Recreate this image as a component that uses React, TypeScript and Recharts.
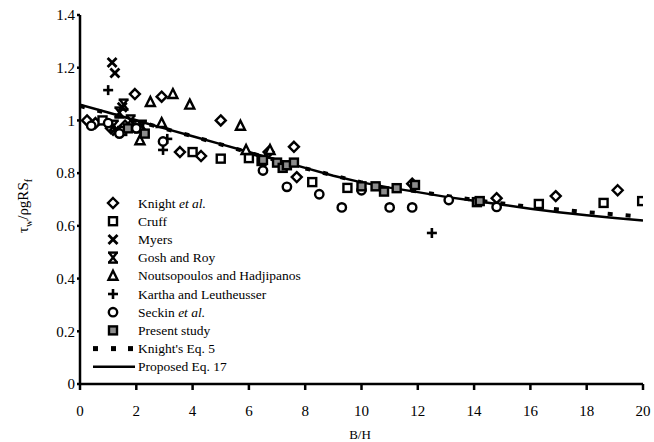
import React from 'react';
import {
    ComposedChart,
    Scatter,
    Line,
    XAxis,
    YAxis,
    Customized
} from 'recharts';

type Pt = { x: number; y: number };

// readings taken off the published figure
const knight: Pt[] = [
    { x: 0.25, y: 1.0 }, { x: 0.55, y: 0.99 }, { x: 1.1, y: 0.97 }, { x: 1.6, y: 0.98 },
    { x: 1.95, y: 1.1 }, { x: 2.9, y: 1.09 }, { x: 3.55, y: 0.88 }, { x: 4.3, y: 0.865 },
    { x: 5.0, y: 1.0 }, { x: 6.7, y: 0.88 }, { x: 7.6, y: 0.9 }, { x: 7.7, y: 0.785 },
    { x: 11.8, y: 0.76 }, { x: 14.8, y: 0.705 }, { x: 16.9, y: 0.713 }, { x: 19.1, y: 0.735 }
];
const cruff: Pt[] = [
    { x: 0.8, y: 1.0 }, { x: 1.5, y: 0.96 }, { x: 2.1, y: 0.97 }, { x: 4.0, y: 0.88 },
    { x: 5.0, y: 0.855 }, { x: 6.0, y: 0.857 }, { x: 6.45, y: 0.846 }, { x: 8.25, y: 0.766 },
    { x: 9.5, y: 0.744 }, { x: 16.3, y: 0.683 }, { x: 18.6, y: 0.687 }, { x: 19.97, y: 0.694 }
];
const myers: Pt[] = [
    { x: 1.14, y: 1.22 }, { x: 1.24, y: 1.18 }, { x: 1.5, y: 1.05 }, { x: 1.3, y: 0.96 }
];
const gosh: Pt[] = [
    { x: 1.55, y: 1.06 }, { x: 1.4, y: 1.03 }, { x: 1.8, y: 1.0 }, { x: 2.2, y: 0.98 }, { x: 1.2, y: 0.98 }
];
const noutsopoulos: Pt[] = [
    { x: 2.5, y: 1.07 }, { x: 3.3, y: 1.1 }, { x: 3.9, y: 1.06 }, { x: 5.7, y: 0.98 },
    { x: 2.9, y: 0.99 }, { x: 2.13, y: 0.925 }, { x: 5.9, y: 0.888 }, { x: 6.75, y: 0.888 }
];
const kartha: Pt[] = [
    { x: 1.0, y: 1.115 }, { x: 1.9, y: 0.98 }, { x: 2.95, y: 0.888 }, { x: 3.1, y: 0.93 }, { x: 12.5, y: 0.573 }
];
const seckin: Pt[] = [
    { x: 0.4, y: 0.98 }, { x: 1.0, y: 0.99 }, { x: 1.4, y: 0.95 }, { x: 2.0, y: 0.97 },
    { x: 2.95, y: 0.92 }, { x: 6.5, y: 0.81 }, { x: 7.35, y: 0.748 }, { x: 8.5, y: 0.72 },
    { x: 9.3, y: 0.67 }, { x: 10.0, y: 0.735 }, { x: 11.0, y: 0.67 }, { x: 11.8, y: 0.67 },
    { x: 13.1, y: 0.698 }, { x: 14.8, y: 0.672 }
];
const present: Pt[] = [
    { x: 1.7, y: 0.97 }, { x: 2.3, y: 0.95 }, { x: 6.5, y: 0.85 }, { x: 7.0, y: 0.84 },
    { x: 7.2, y: 0.82 }, { x: 7.35, y: 0.83 }, { x: 7.6, y: 0.84 }, { x: 10.0, y: 0.75 },
    { x: 10.5, y: 0.75 }, { x: 10.8, y: 0.73 }, { x: 11.25, y: 0.743 }, { x: 11.9, y: 0.755 },
    { x: 14.1, y: 0.69 }, { x: 14.2, y: 0.694 }
];
const knightEq5: Pt[] = [
    { x: 0, y: 1.055 }, { x: 2, y: 0.998 }, { x: 4, y: 0.94 }, { x: 6, y: 0.878 },
    { x: 8, y: 0.818 }, { x: 10, y: 0.765 }, { x: 12, y: 0.73 }, { x: 14, y: 0.698 },
    { x: 16, y: 0.672 }, { x: 18, y: 0.652 }, { x: 20, y: 0.635 }
];
const proposedEq17: Pt[] = [
    { x: 0, y: 1.06 }, { x: 1, y: 1.03 }, { x: 2, y: 1.0 }, { x: 3, y: 0.97 }, { x: 4, y: 0.94 },
    { x: 5, y: 0.91 }, { x: 6, y: 0.88 }, { x: 7, y: 0.85 }, { x: 8, y: 0.82 }, { x: 9, y: 0.79 },
    { x: 10, y: 0.765 }, { x: 11, y: 0.745 }, { x: 12, y: 0.728 }, { x: 13, y: 0.71 }, { x: 14, y: 0.695 },
    { x: 15, y: 0.68 }, { x: 16, y: 0.665 }, { x: 17, y: 0.652 }, { x: 18, y: 0.64 }, { x: 19, y: 0.63 },
    { x: 20, y: 0.62 }
];
const xTicks = [0, 2, 4, 6, 8, 10, 12, 14, 16, 18, 20];
const yTicks = [0, 0.2, 0.4, 0.6, 0.8, 1, 1.2, 1.4];

const FONT = "'Liberation Serif', 'Times New Roman', serif";

type Kind = 'diamond' | 'square' | 'x' | 'gosh' | 'triangle' | 'plus' | 'circle' | 'graySquare';

const Marker = ({ kind, cx, cy }: { kind: Kind; cx: number; cy: number }) => {
    const s = { stroke: '#000', strokeWidth: 2.4, fill: '#fff' };
    switch (kind) {
        case 'diamond':
            return <polygon points={`${cx},${cy - 5} ${cx + 5},${cy} ${cx},${cy + 5} ${cx - 5},${cy}`} {...s} />;
        case 'square':
            return <rect x={cx - 4} y={cy - 4} width={8} height={8} {...s} />;
        case 'graySquare':
            return <rect x={cx - 4} y={cy - 4} width={8} height={8} {...s} fill="#8c8c8c" />;
        case 'triangle':
            return <polygon points={`${cx},${cy - 5} ${cx + 4.5},${cy + 4} ${cx - 4.5},${cy + 4}`} {...s} />;
        case 'circle':
            return <circle cx={cx} cy={cy} r={4.2} {...s} />;
        case 'plus':
            return (
                <g stroke="#000" strokeWidth={2.6}>
                    <line x1={cx - 5} y1={cy} x2={cx + 5} y2={cy} />
                    <line x1={cx} y1={cy - 5} x2={cx} y2={cy + 5} />
                </g>
            );
        case 'x':
            return (
                <g stroke="#000" strokeWidth={2.8}>
                    <line x1={cx - 4.5} y1={cy - 4.5} x2={cx + 4.5} y2={cy + 4.5} />
                    <line x1={cx + 4.5} y1={cy - 4.5} x2={cx - 4.5} y2={cy + 4.5} />
                </g>
            );
        case 'gosh':
            return (
                <g stroke="#000" strokeWidth={2.4}>
                    <line x1={cx - 4} y1={cy - 5} x2={cx + 4} y2={cy + 5} />
                    <line x1={cx + 4} y1={cy - 5} x2={cx - 4} y2={cy + 5} />
                    <line x1={cx - 5} y1={cy - 5} x2={cx + 5} y2={cy - 5} />
                    <line x1={cx - 5} y1={cy + 5} x2={cx + 5} y2={cy + 5} />
                </g>
            );
    }
    return null;
};

const shapeOf = (kind: Kind) => (props: any) => <Marker kind={kind} cx={props.cx} cy={props.cy} />;

const EtAl = () => <tspan fontStyle="italic">et al.</tspan>;

const legendRows: { label: React.ReactNode; kind: Kind | 'dash' | 'line' }[] = [
    { label: <>Knight <EtAl /></>, kind: 'diamond' },
    { label: 'Cruff', kind: 'square' },
    { label: 'Myers', kind: 'x' },
    { label: 'Gosh and Roy', kind: 'gosh' },
    { label: 'Noutsopoulos and Hadjipanos', kind: 'triangle' },
    { label: 'Kartha and Leutheusser', kind: 'plus' },
    { label: <>Seckin <EtAl /></>, kind: 'circle' },
    { label: 'Present study', kind: 'graySquare' },
    { label: "Knight's Eq. 5", kind: 'dash' },
    { label: 'Proposed Eq. 17', kind: 'line' }
];

// legend is drawn inside the plot, so it goes in a Customized layer (no layout space)
const LegendBox = () => (
    <g transform="translate(80,203)" style={{ fontFamily: FONT }}>
        {legendRows.map((r, i) => {
            const cy = i * 18.2;
            let sym: React.ReactNode;
            if (r.kind === 'dash') {
                sym = (
                    <g fill="#000">
                        <rect x={13} y={cy - 2.5} width={5} height={5} />
                        <rect x={31} y={cy - 2.5} width={5} height={5} />
                        <rect x={48} y={cy - 2.5} width={5} height={5} />
                    </g>
                );
            } else if (r.kind === 'line') {
                sym = <line x1={13} y1={cy} x2={55} y2={cy} stroke="#000" strokeWidth={2.5} />;
            } else {
                sym = <Marker kind={r.kind} cx={33} cy={cy} />;
            }
            return (
                <g key={i}>
                    {sym}
                    <text x={58} y={cy + 4.5} fontSize={13.5} style={{ fontFamily: FONT }} fill="#000">
                        {r.label}
                    </text>
                </g>
            );
        })}
    </g>
);

const AxisTitles = () => (
    <g style={{ fontFamily: FONT }} fill="#000">
        <text x={360} y={439} fontSize={13} textAnchor="middle" style={{ fontFamily: FONT }}>B/H</text>
        <text transform="translate(28,206) rotate(-90)" fontSize={15} textAnchor="middle" style={{ fontFamily: FONT }}>
            τ<tspan fontSize={10} dy={4}>w</tspan>
            <tspan dy={-4}>/ρgRS</tspan>
            <tspan fontSize={10} dy={4}>f</tspan>
        </text>
    </g>
);

const tickStyle = { fill: '#000', fontSize: 15, fontFamily: FONT, style: { fontFamily: FONT } } as any;

export default function App() {
    return (
        <div style={{ position: 'absolute', left: 0, top: 0, background: '#fff' }}>
            <ComposedChart
                width={654}
                height={442}
                margin={{ top: 15, right: 11, bottom: 0, left: 0 }}
            >
                <XAxis
                    dataKey="x"
                    type="number"
                    domain={[0, 20]}
                    ticks={xTicks}
                    interval={0}
                    height={58}
                    allowDataOverflow
                    stroke="#000"
                    strokeWidth={2.5}
                    tickSize={6}
                    tickMargin={15}
                    tick={tickStyle}
                />
                <YAxis
                    dataKey="y"
                    type="number"
                    domain={[0, 1.4]}
                    ticks={yTicks}
                    interval={0}
                    width={80}
                    stroke="#000"
                    strokeWidth={2.5}
                    tickSize={3}
                    tickMargin={2}
                    tick={tickStyle}
                />
                <Line data={knightEq5} dataKey="y" stroke="#000" strokeWidth={4} strokeDasharray="5 13" dot={false} isAnimationActive={false} />
                <Line data={proposedEq17} dataKey="y" stroke="#000" strokeWidth={2.5} dot={false} isAnimationActive={false} />
                <Scatter data={knight} dataKey="y" shape={shapeOf('diamond')} isAnimationActive={false} />
                <Scatter data={cruff} dataKey="y" shape={shapeOf('square')} isAnimationActive={false} />
                <Scatter data={myers} dataKey="y" shape={shapeOf('x')} isAnimationActive={false} />
                <Scatter data={gosh} dataKey="y" shape={shapeOf('gosh')} isAnimationActive={false} />
                <Scatter data={noutsopoulos} dataKey="y" shape={shapeOf('triangle')} isAnimationActive={false} />
                <Scatter data={kartha} dataKey="y" shape={shapeOf('plus')} isAnimationActive={false} />
                <Scatter data={seckin} dataKey="y" shape={shapeOf('circle')} isAnimationActive={false} />
                <Scatter data={present} dataKey="y" shape={shapeOf('graySquare')} isAnimationActive={false} />
                <Customized component={LegendBox} />
                <Customized component={AxisTitles} />
            </ComposedChart>
        </div>
    );
}
